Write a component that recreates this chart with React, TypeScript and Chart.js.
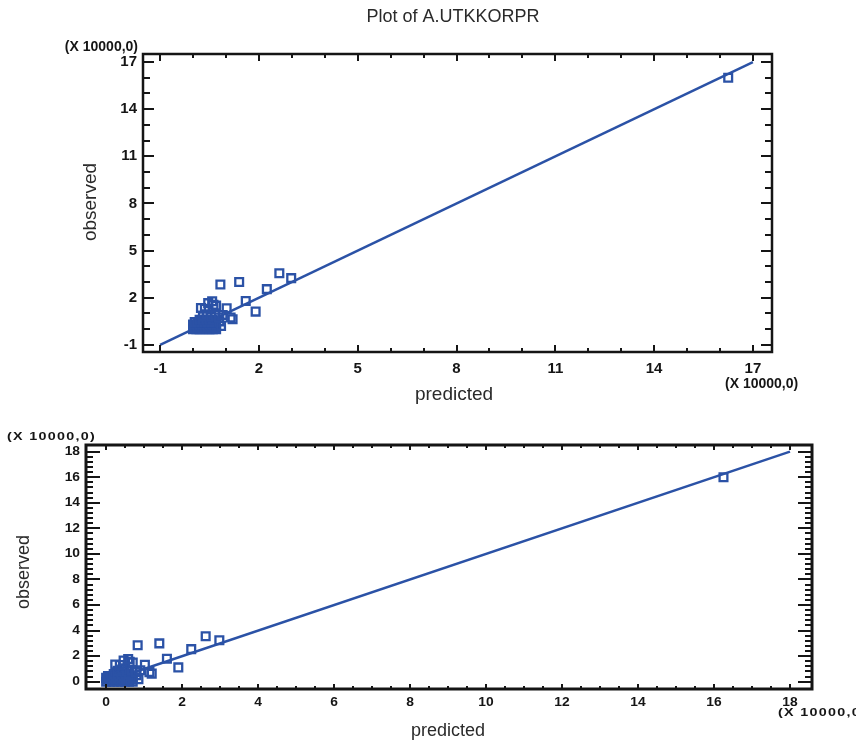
import { useEffect, useRef } from "react";
import { Chart, registerables } from "chart.js";

Chart.register(...registerables);

const chartTitle = "Plot of A.UTKKORPR";
const xAxisTitle = "predicted";
const yAxisTitle = "observed";
const unitNote = "(X 10000,0)";

// values in units of 10000
const predicted = [
  0.0, 0.1, 0.2, 0.3, 0.4, 0.5, 0.6, 0.7,
  0.05, 0.15, 0.25, 0.35, 0.45, 0.55, 0.65,
  0.0, 0.1, 0.2, 0.3, 0.4, 0.5, 0.6, 0.7,
  0.05, 0.15, 0.25, 0.35, 0.45, 0.55, 0.65,
  0.2, 0.3, 0.4, 0.5, 0.6,
  0.3, 0.42, 0.55, 0.68, 0.8, 0.85, 0.78, 0.9,
  0.24, 0.46, 0.62, 0.36, 0.7, 0.58, 1.02, 1.14, 1.2,
  0.83, 1.4, 2.62, 2.98, 2.24, 1.6, 1.9, 16.25,
];
const observed = [
  0.0, 0.0, 0.0, 0.0, 0.0, 0.0, 0.0, 0.0,
  0.15, 0.15, 0.15, 0.15, 0.15, 0.15, 0.15,
  0.3, 0.3, 0.3, 0.3, 0.3, 0.3, 0.3, 0.3,
  0.45, 0.45, 0.45, 0.45, 0.45, 0.45, 0.45,
  0.6, 0.6, 0.6, 0.6, 0.6,
  0.85, 0.95, 0.8, 0.9, 0.5, 0.2, 0.75, 0.9,
  1.35, 1.66, 1.56, 1.3, 1.5, 1.78, 1.33, 0.75, 0.63,
  2.85, 3.0, 3.56, 3.25, 2.55, 1.8, 1.12, 16.0,
];

const fitLineTop = [-1, 17];
const fitLineBottom = [0, 18];

const ticksTop = [-1, 2, 5, 8, 11, 14, 17];
const ticksBottom = [0, 2, 4, 6, 8, 10, 12, 14, 16, 18];

const BLUE = "#2b52a6";
const INK = "#151515";

type PanelCfg = {
  width: number;
  height: number;
  top: number;
  padTop: number;
  padRight: number;
  yWidth: number;
  xHeight: number;
  xMin: number;
  xMax: number;
  yMin: number;
  yMax: number;
  ticks: number[];
  fit: number[];
  minorX: number;
  minorY: number;
  xMajorLen: number;
  xMinorLen: number;
  yMajorLen: number;
  yMinorLen: number;
  frameWidth: number;
  tickFont: string;
  tickSx: number;
  xLabelOffset: number;
  yLabelGap: number;
  pointRadius: number;
  draw: (ctx: CanvasRenderingContext2D) => void;
};

function drawText(
  ctx: CanvasRenderingContext2D,
  s: string,
  x: number,
  y: number,
  font: string,
  align: CanvasTextAlign,
  color: string,
  sx = 1,
  rot = 0,
  spacing = "0px"
) {
  ctx.save();
  ctx.translate(x, y);
  if (rot) ctx.rotate(rot);
  ctx.scale(sx, 1);
  ctx.font = font;
  ctx.fillStyle = color;
  ctx.textAlign = align;
  ctx.textBaseline = "middle";
  (ctx as any).letterSpacing = spacing;
  ctx.fillText(s, 0, 0);
  ctx.restore();
}

function framePlugin(cfg: PanelCfg) {
  return {
    id: "frameTicks",
    afterDraw(chart: any) {
      const ctx: CanvasRenderingContext2D = chart.ctx;
      const a = chart.chartArea;
      const xs = chart.scales.x;
      const ys = chart.scales.y;
      const first = cfg.ticks[0];
      const last = cfg.ticks[cfg.ticks.length - 1];
      const isMajor = (v: number) => cfg.ticks.some((t) => Math.abs(t - v) < 1e-6);
      ctx.save();
      ctx.strokeStyle = INK;
      ctx.lineWidth = 2;
      ctx.beginPath();
      for (let k = 0; first + k * cfg.minorX <= last + 1e-6; k++) {
        const v = first + k * cfg.minorX;
        const px = Math.round(xs.getPixelForValue(v));
        const len = isMajor(v) ? cfg.xMajorLen : cfg.xMinorLen;
        ctx.moveTo(px, a.bottom);
        ctx.lineTo(px, a.bottom - len);
        ctx.moveTo(px, a.top);
        ctx.lineTo(px, a.top + len);
      }
      for (let k = 0; first + k * cfg.minorY <= last + 1e-6; k++) {
        const v = first + k * cfg.minorY;
        const py = Math.round(ys.getPixelForValue(v));
        const len = isMajor(v) ? cfg.yMajorLen : cfg.yMinorLen;
        ctx.moveTo(a.left, py);
        ctx.lineTo(a.left + len, py);
        ctx.moveTo(a.right, py);
        ctx.lineTo(a.right - len, py);
      }
      ctx.stroke();
      ctx.lineWidth = cfg.frameWidth;
      ctx.strokeRect(a.left, a.top, a.right - a.left, a.bottom - a.top);
      ctx.restore();

      for (const t of cfg.ticks) {
        drawText(ctx, String(t), xs.getPixelForValue(t), a.bottom + cfg.xLabelOffset, cfg.tickFont, "center", INK, cfg.tickSx);
        drawText(ctx, String(t), a.left - cfg.yLabelGap, ys.getPixelForValue(t), cfg.tickFont, "right", INK, cfg.tickSx);
      }
      cfg.draw(ctx);
    },
  };
}

function Panel({ cfg }: { cfg: PanelCfg }) {
  const ref = useRef<HTMLCanvasElement>(null);
  useEffect(() => {
    if (!ref.current) return;
    const pts = predicted.map((x, i) => ({ x, y: observed[i] }));
    const chart = new Chart(ref.current, {
      type: "scatter",
      data: {
        datasets: [
          {
            data: cfg.fit.map((v) => ({ x: v, y: v })),
            showLine: true,
            borderColor: BLUE,
            borderWidth: 2.5,
            pointRadius: 0,
            order: 2,
          } as any,
          {
            data: pts,
            pointStyle: "rect",
            pointRadius: cfg.pointRadius,
            borderColor: BLUE,
            backgroundColor: "rgba(0,0,0,0)",
            borderWidth: 2.3,
            order: 1,
          } as any,
        ],
      },
      options: {
        animation: false,
        responsive: false,
        maintainAspectRatio: false,
        layout: { padding: { left: 0, top: cfg.padTop, right: cfg.padRight, bottom: 0 } },
        plugins: { legend: { display: false }, tooltip: { enabled: false }, title: { display: false } },
        scales: {
          x: {
            type: "linear",
            min: cfg.xMin,
            max: cfg.xMax,
            grid: { display: false, drawTicks: false },
            border: { display: false },
            ticks: { display: false },
            afterBuildTicks: (s: any) => {
              s.ticks = cfg.ticks.map((v) => ({ value: v }));
            },
            afterFit: (s: any) => {
              s.height = cfg.xHeight;
            },
          },
          y: {
            type: "linear",
            min: cfg.yMin,
            max: cfg.yMax,
            grid: { display: false, drawTicks: false },
            border: { display: false },
            ticks: { display: false },
            afterBuildTicks: (s: any) => {
              s.ticks = cfg.ticks.map((v) => ({ value: v }));
            },
            afterFit: (s: any) => {
              s.width = cfg.yWidth;
            },
          },
        },
      },
      plugins: [framePlugin(cfg)],
    } as any);
    return () => chart.destroy();
  }, [cfg]);
  return (
    <canvas
      ref={ref}
      width={cfg.width}
      height={cfg.height}
      style={{ position: "absolute", left: 0, top: cfg.top, width: cfg.width, height: cfg.height, display: "block" }}
    />
  );
}

const SANS = "'Liberation Sans', Arial, sans-serif";

const topCfg: PanelCfg = {
  width: 856,
  height: 410,
  top: 0,
  padTop: 54,
  padRight: 84,
  yWidth: 143,
  xHeight: 58,
  xMin: -1.52,
  xMax: 17.58,
  yMin: -1.45,
  yMax: 17.51,
  ticks: ticksTop,
  fit: fitLineTop,
  minorX: 1,
  minorY: 1,
  xMajorLen: 7,
  xMinorLen: 4,
  yMajorLen: 11,
  yMinorLen: 7,
  frameWidth: 2.5,
  tickFont: `bold 15px ${SANS}`,
  tickSx: 1,
  xLabelOffset: 17,
  yLabelGap: 6,
  pointRadius: 5.5,
  draw: (ctx) => {
    drawText(ctx, chartTitle, 453, 17, `18px ${SANS}`, "center", "#2a2a2a");
    drawText(ctx, yAxisTitle, 91, 202, `19px ${SANS}`, "center", "#2a2a2a", 1, -Math.PI / 2);
    drawText(ctx, xAxisTitle, 454, 395, `19px ${SANS}`, "center", "#2a2a2a");
    drawText(ctx, unitNote, 138, 47, `bold 14px ${SANS}`, "right", INK);
    drawText(ctx, unitNote, 725, 384, `bold 14px ${SANS}`, "left", INK);
  },
};

const bottomCfg: PanelCfg = {
  width: 856,
  height: 332,
  top: 410,
  padTop: 35,
  padRight: 44,
  yWidth: 86,
  xHeight: 53,
  xMin: -0.53,
  xMax: 18.58,
  yMin: -0.57,
  yMax: 18.52,
  ticks: ticksBottom,
  fit: fitLineBottom,
  minorX: 0.5,
  minorY: 0.4,
  xMajorLen: 5,
  xMinorLen: 3,
  yMajorLen: 14,
  yMinorLen: 7,
  frameWidth: 3,
  tickFont: `bold 12px ${SANS}`,
  tickSx: 1.15,
  xLabelOffset: 14,
  yLabelGap: 6,
  pointRadius: 5.5,
  draw: (ctx) => {
    drawText(ctx, yAxisTitle, 24, 162, `18px ${SANS}`, "center", "#2a2a2a", 1, -Math.PI / 2);
    drawText(ctx, xAxisTitle, 448, 321, `18px ${SANS}`, "center", "#2a2a2a");
    drawText(ctx, unitNote, 7, 27, `bold 11px ${SANS}`, "left", INK, 1.3, 0, "1px");
    drawText(ctx, unitNote, 778, 303, `bold 11px ${SANS}`, "left", INK, 1.3, 0, "1px");
  },
};

export default function App() {
  return (
    <div style={{ position: "absolute", left: 0, top: 0, width: 856, height: 742, background: "#fff", overflow: "hidden" }}>
      <Panel cfg={topCfg} />
      <Panel cfg={bottomCfg} />
    </div>
  );
}
